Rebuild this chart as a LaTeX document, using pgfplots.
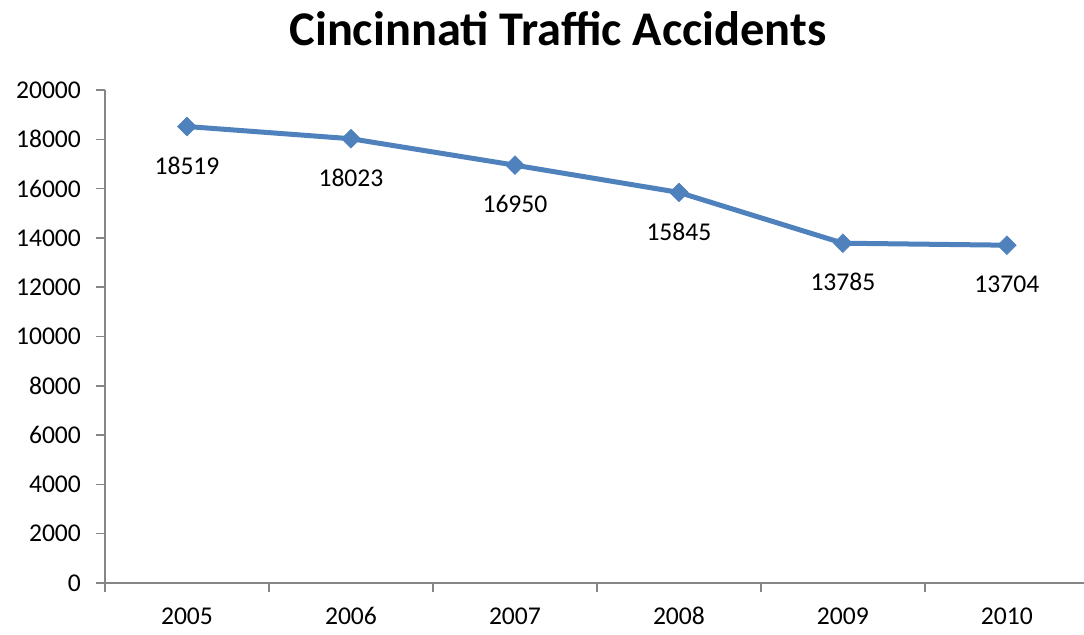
\documentclass[border=0pt]{standalone}
\usepackage{pgfplots}
\pgfplotsset{compat=1.18}
\usepackage{fontspec}
\setmainfont{Carlito}
\definecolor{serie}{HTML}{4F81BD}
\definecolor{axgray}{HTML}{868686}
\begin{document}
\begin{tikzpicture}
\useasboundingbox (-52.5pt,-25.5pt) rectangle (489.5pt,291.5pt);
\begin{axis}[
  at={(0pt,0pt)}, anchor=south west,
  scale only axis, width=489.5pt, height=246.5pt,
  xmin=-0.5, xmax=5.47, ymin=0, ymax=20000,
  axis x line*=bottom, axis y line*=left,
  axis line style={-, draw=axgray, line width=0.75pt},
  xtick={-0.5,0.5,1.5,2.5,3.5,4.5},
  xticklabels={},
  extra x ticks={0,1,2,3,4,5},
  extra x tick labels={2005,2006,2007,2008,2009,2010},
  extra x tick style={tick style={draw=none}, xticklabel style={anchor=center, yshift=-12pt}},
  ytick={0,2000,...,20000},
  tick align=outside,
  major tick length=4.5pt,
  tick style={draw=axgray, line width=0.75pt},
  tick label style={font=\fontsize{12.8}{15}\selectfont},
  /pgf/number format/1000 sep={},
  /pgf/number format/fixed,
  /pgf/number format/assume math mode=true,
  yticklabel style={xshift=-4pt},
  scaled y ticks=false,
  clip=false,
  nodes near coords,
  nodes near coords style={font=\fontsize{12.8}{15}\selectfont, text=black, anchor=center, yshift=-19.5pt},
]
\addplot[color=serie, line width=2.5pt, mark=square*, mark size=3.3pt,
  mark options={fill=serie, draw=serie, line width=0.3pt, rotate=45}]
  coordinates {(0,18519) (1,18023) (2,16950) (3,15845) (4,13785) (5,13704)};
\end{axis}
\node[font=\bfseries\fontsize{24.2}{28}\selectfont] at (226.5pt,277pt) {Cincinnati Traffic Accidents};
\end{tikzpicture}
\end{document}
